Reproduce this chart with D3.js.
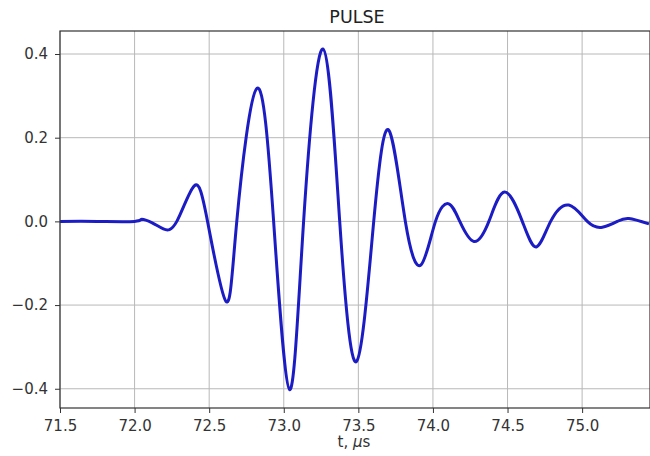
<!DOCTYPE html>
<html>
<head>
<meta charset="utf-8">
<script src="https://cdn.jsdelivr.net/npm/d3@7"></script>
<style>
body { margin: 0; background: #fff; }
svg { display: block; font-family: "DejaVu Sans", sans-serif; }
</style>
</head>
<body>
<svg id="chart" width="650" height="456"></svg>
<script>
// time (µs)
const times = [71.5, 71.75, 72.0, 72.048, 72.115, 72.193, 72.283, 72.40, 72.489, 72.612, 72.685,
  72.82, 72.932, 73.039, 73.133, 73.263, 73.375, 73.487, 73.603, 73.704, 73.815,
  73.92, 74.017, 74.106, 74.18, 74.275, 74.375, 74.48, 74.599, 74.693, 74.789,
  74.911, 75.035, 75.135, 75.236, 75.314, 75.448];
// amplitude
const values = [0, 0, 0, 0.005, -0.003, -0.018, 0, 0.085, 0, -0.191, 0,
  0.318, 0, -0.402, 0, 0.412, 0, -0.335, 0, 0.218, 0,
  -0.104, 0, 0.042, 0, -0.048, 0, 0.070, 0, -0.061, 0,
  0.039, 0, -0.014, 0, 0.007, -0.006];
const xTicks = [71.5, 72.0, 72.5, 73.0, 73.5, 74.0, 74.5, 75.0];
const yTicks = [-0.4, -0.2, 0.0, 0.2, 0.4];
const title = "PULSE";

const svg = d3.select("#chart");
const m = {left: 60, right: 650, top: 31, bottom: 408};
const x = d3.scaleLinear().domain([71.5, 75.455]).range([m.left, m.right]);
const y = d3.scaleLinear().domain([-0.446, 0.455]).range([m.bottom, m.top]);

// grid
svg.append("g").selectAll("line").data(xTicks).join("line")
  .attr("x1", d => x(d)).attr("x2", d => x(d)).attr("y1", m.top).attr("y2", m.bottom)
  .attr("stroke", "#b8b8b8").attr("stroke-width", 1);
svg.append("g").selectAll("line").data(yTicks).join("line")
  .attr("y1", d => y(d)).attr("y2", d => y(d)).attr("x1", m.left).attr("x2", m.right)
  .attr("stroke", "#b8b8b8").attr("stroke-width", 1);

// line
const pts = times.map((t, i) => [t, values[i]]);
const line = d3.line().x(d => x(d[0])).y(d => y(d[1])).curve(d3.curveNatural);
svg.append("path").datum(pts).attr("d", line)
  .attr("fill", "none").attr("stroke", "#1c1cc4").attr("stroke-width", 3)
  .attr("stroke-linejoin", "round");

// frame
svg.append("rect").attr("x", m.left).attr("y", m.top)
  .attr("width", m.right - m.left).attr("height", m.bottom - m.top)
  .attr("fill", "none").attr("stroke", "#333").attr("stroke-width", 1.2);

// axes
const xAxis = d3.axisBottom(x).tickValues(xTicks).tickFormat(d3.format(".1f")).tickSize(5).tickPadding(7);
const gx = svg.append("g").attr("transform", `translate(0,${m.bottom})`).call(xAxis);
const yAxis = d3.axisLeft(y).tickValues(yTicks).tickFormat(d => d3.format(".1f")(d).replace("-", "\u2212")).tickSize(5).tickPadding(7);
const gy = svg.append("g").attr("transform", `translate(${m.left},0)`).call(yAxis);
[gx, gy].forEach(g => {
  g.select(".domain").remove();
  g.selectAll("line").attr("stroke", "#333");
  g.selectAll("text").attr("fill", "#333").style("font-size", "15px").style("font-family", "DejaVu Sans, sans-serif");
});

// title
svg.append("text").attr("x", 357).attr("y", 23)
  .attr("text-anchor", "middle").attr("fill", "#222").style("font-size", "17.5px").text(title);

// x label
const xl = svg.append("text").attr("x", 354).attr("y", 447)
  .attr("text-anchor", "middle").attr("fill", "#333").style("font-size", "15px");
xl.append("tspan").text("t, ");
xl.append("tspan").style("font-style", "italic").text("\u03bc");
xl.append("tspan").text("s");
</script>
</body>
</html>
